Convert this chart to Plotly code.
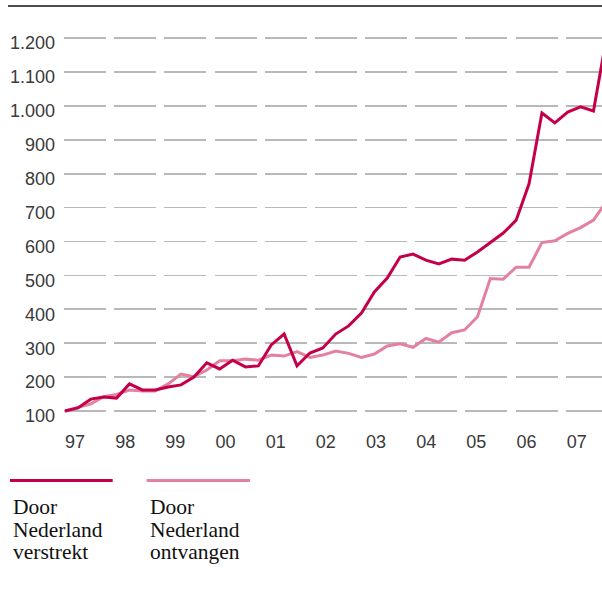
import plotly.graph_objects as go

# ---- data (quarterly index, 1997 = 100) ----
quarter_index = list(range(43))
verstrekt = [100, 109, 135, 141, 138, 180, 162, 162, 171, 177,
             200, 242, 224, 250, 230, 233, 295, 327, 233, 271,
             286, 327, 351, 389, 451, 492, 554, 563, 545, 534,
             548, 545, 569, 596, 625, 663, 770, 979, 950, 982,
             997, 985, 1200]
ontvangen = [100, 110, 121, 142, 149, 162, 159, 159, 180, 209,
             201, 221, 248, 248, 253, 250, 265, 262, 275, 258,
             265, 277, 270, 258, 268, 292, 298, 288, 314, 303,
             331, 339, 378, 491, 489, 524, 524, 597, 602, 624,
             641, 663, 718]
year_labels = ["97", "98", "99", "00", "01", "02", "03", "04", "05", "06", "07"]
y_tick_values = [100, 200, 300, 400, 500, 600, 700, 800, 900, 1000, 1100, 1200]
series_names = [["Door", "Nederland", "verstrekt"], ["Door", "Nederland", "ontvangen"]]

# ---- style ----
DARK = "#c5004b"
PINK = "#e3819f"
GRID = "#b9b9b9"
W, H = 602, 591
ML, MT = 64, 20
PLOT_BOTTOM = 430
MB = H - PLOT_BOTTOM
PX_PER_Q = 12.89
PX_PER_YEAR = 50.17
X0 = -1.0 / PX_PER_Q
X1 = X0 + (W - ML) / PX_PER_Q
Y_PX_PER_UNIT = 0.339
plot_h = H - MT - MB
Y0 = 100 - 19 / Y_PX_PER_UNIT
Y1 = Y0 + plot_h / Y_PX_PER_UNIT

def px_to_idx(px):
    return (px - ML) / PX_PER_Q + X0

tickvals_x = [px_to_idx(65 + PX_PER_YEAR * k + 10) for k in range(len(year_labels))]

fig = go.Figure()
fig.add_trace(go.Scatter(x=quarter_index, y=ontvangen, mode="lines",
                         line=dict(color=PINK, width=3), name=" ".join(series_names[1])))
fig.add_trace(go.Scatter(x=quarter_index, y=verstrekt, mode="lines",
                         line=dict(color=DARK, width=3), name=" ".join(series_names[0])))

fig.update_layout(
    width=W, height=H,
    margin=dict(l=ML, r=0, t=MT, b=MB, pad=0),
    paper_bgcolor="white", plot_bgcolor="white",
    showlegend=False,
    separators=",.",
    font=dict(family="Liberation Sans, Arial, sans-serif", size=18, color="#3a3a3a"),
)
fig.update_xaxes(range=[X0, X1], showgrid=False, zeroline=False, showline=False,
                 tickmode="array", tickvals=tickvals_x, ticktext=year_labels,
                 ticks="", ticklabelstandoff=-1)
fig.update_yaxes(range=[Y0, Y1], showgrid=True, gridcolor=GRID, gridwidth=1.6,
                 griddash="42px,8.17px", zeroline=False, showline=False,
                 tickmode="array", tickvals=y_tick_values, tickformat=",d",
                 ticks="", ticklabelstandoff=8, ticklabelshift=5)

# helpers: image pixel -> paper coords
def xp(px):
    return (px - ML) / (W - ML)

def yp(py):
    return (PLOT_BOTTOM - py) / plot_h

# top rule
fig.add_shape(type="line", xref="paper", yref="paper", x0=xp(8), x1=xp(602),
              y0=yp(6), y1=yp(6), line=dict(color="#111111", width=1.6))

# legend
legend_colors = [DARK, PINK]
legend_x = [(10, 112.7), (146.7, 250)]
text_x = [11, 147.5]
for names, col, (lx0, lx1), tx in zip(series_names, legend_colors, legend_x, text_x):
    fig.add_shape(type="line", xref="paper", yref="paper", x0=xp(lx0), x1=xp(lx1),
                  y0=yp(480.5), y1=yp(480.5), line=dict(color=col, width=3.2))
    for j, word in enumerate(names):
        fig.add_annotation(xref="paper", yref="paper", x=xp(tx), y=yp(507 + 22.5 * j),
                           xanchor="left", yanchor="middle", showarrow=False,
                           text=word, font=dict(family="Liberation Serif, serif", size=21.5,
                                                color="#111111"))

fig.write_html("out.html",
               config={"displayModeBar": False, "staticPlot": True},
               post_script="document.body.style.margin='0';document.body.style.overflow='hidden';")
